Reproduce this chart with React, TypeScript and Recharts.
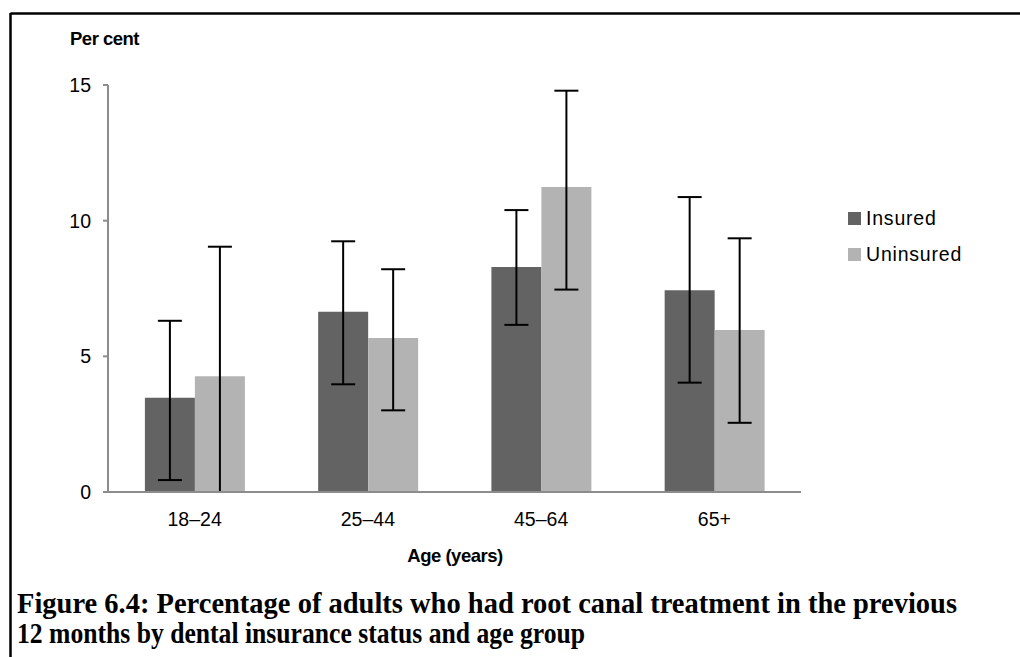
import React from 'react';
import { BarChart, Bar, XAxis, YAxis, ErrorBar } from 'recharts';

const categories = ['18–24', '25–44', '45–64', '65+'];
const insured = [3.47, 6.64, 8.29, 7.44];
const insuredLow = [0.44, 3.97, 6.16, 4.03];
const insuredHigh = [6.31, 9.24, 10.39, 10.87];
const uninsured = [4.27, 5.68, 11.24, 5.97];
const uninsuredLow = [0, 3.01, 7.46, 2.55];
const uninsuredHigh = [9.04, 8.21, 14.79, 9.35];
const yTicks = [0, 5, 10, 15];
const seriesNames = ['Insured', 'Uninsured'];
const seriesColors = ['#636363', '#b3b3b3'];

const data = categories.map((c, i) => ({
  age: c,
  Insured: insured[i],
  insErr: [insured[i] - insuredLow[i], insuredHigh[i] - insured[i]],
  Uninsured: uninsured[i],
  uninsErr: [uninsured[i] - uninsuredLow[i], uninsuredHigh[i] - uninsured[i]],
}));

const FONT = '"Liberation Sans", Arial, sans-serif';
const SERIF = '"Liberation Serif", "Times New Roman", serif';

export default function App() {
  return (
    <div style={{ position: 'absolute', left: 0, top: 0, width: 1020, height: 657, background: '#fff', overflow: 'hidden' }}>
      <div style={{ position: 'absolute', left: 0, top: 0 }}>
        <BarChart
          width={1020}
          height={657}
          data={data}
          margin={{ top: 85, right: 219, bottom: 135, left: 8 }}
          barCategoryGap="21.3%"
          barGap={0}
        >
          <XAxis
            dataKey="age"
            axisLine={{ stroke: '#8c8c8c', strokeWidth: 2 }}
            tickLine={false}
            tickSize={0}
            tickMargin={20}
            height={30}
            tick={{ fontSize: 19.5, fill: '#000', fontFamily: FONT }}
          />
          <YAxis
            width={100}
            domain={[0, 15]}
            ticks={yTicks}
            axisLine={{ stroke: '#8c8c8c', strokeWidth: 2 }}
            tickLine={{ stroke: '#8c8c8c', strokeWidth: 2 }}
            tickSize={5}
            tickMargin={12}
            tick={{ fontSize: 19.5, fill: '#000', fontFamily: FONT }}
          />
          <Bar dataKey="Insured" fill={seriesColors[0]} isAnimationActive={false}>
            <ErrorBar dataKey="insErr" width={12} strokeWidth={2} stroke="#000" direction="y" />
          </Bar>
          <Bar dataKey="Uninsured" fill={seriesColors[1]} isAnimationActive={false}>
            <ErrorBar dataKey="uninsErr" width={12} strokeWidth={2} stroke="#000" direction="y" />
          </Bar>
        </BarChart>
      </div>
      <div style={{ position: 'absolute', left: 848, top: 200, fontFamily: FONT }}>
        {seriesNames.map((n, i) => (
          <div key={n} style={{ display: 'flex', alignItems: 'center', height: 36 }}>
            <span style={{ width: 13, height: 13, background: seriesColors[i], display: 'inline-block', marginRight: 5 }} />
            <span style={{ fontSize: 19.5, color: '#000', letterSpacing: 0.8 }}>{n}</span>
          </div>
        ))}
      </div>
      <div style={{ position: 'absolute', left: 70, top: 28, fontFamily: FONT, fontWeight: 'bold', fontSize: 18.5, color: '#000', letterSpacing: -0.5 }}>Per cent</div>
      <div style={{ position: 'absolute', left: 355, width: 200, textAlign: 'center', top: 545, fontFamily: FONT, fontWeight: 'bold', fontSize: 18.5, color: '#000', letterSpacing: -0.5 }}>Age (years)</div>
      <svg style={{ position: 'absolute', left: 0, top: 0 }} width={1020} height={657}>
        <line x1={10.5} y1={13.5} x2={1020} y2={13.5} stroke="#000" strokeWidth={2.5} />
        <line x1={10.5} y1={13} x2={10.5} y2={657} stroke="#000" strokeWidth={2.5} />
        <text x={17} y={613} fontFamily={SERIF} fontWeight="bold" fontSize={29} textLength={940} lengthAdjust="spacingAndGlyphs" fill="#000">
          Figure 6.4: Percentage of adults who had root canal treatment in the previous
        </text>
        <text x={17} y={643} fontFamily={SERIF} fontWeight="bold" fontSize={29} textLength={568} lengthAdjust="spacingAndGlyphs" fill="#000">
          12 months by dental insurance status and age group
        </text>
      </svg>
    </div>
  );
}
